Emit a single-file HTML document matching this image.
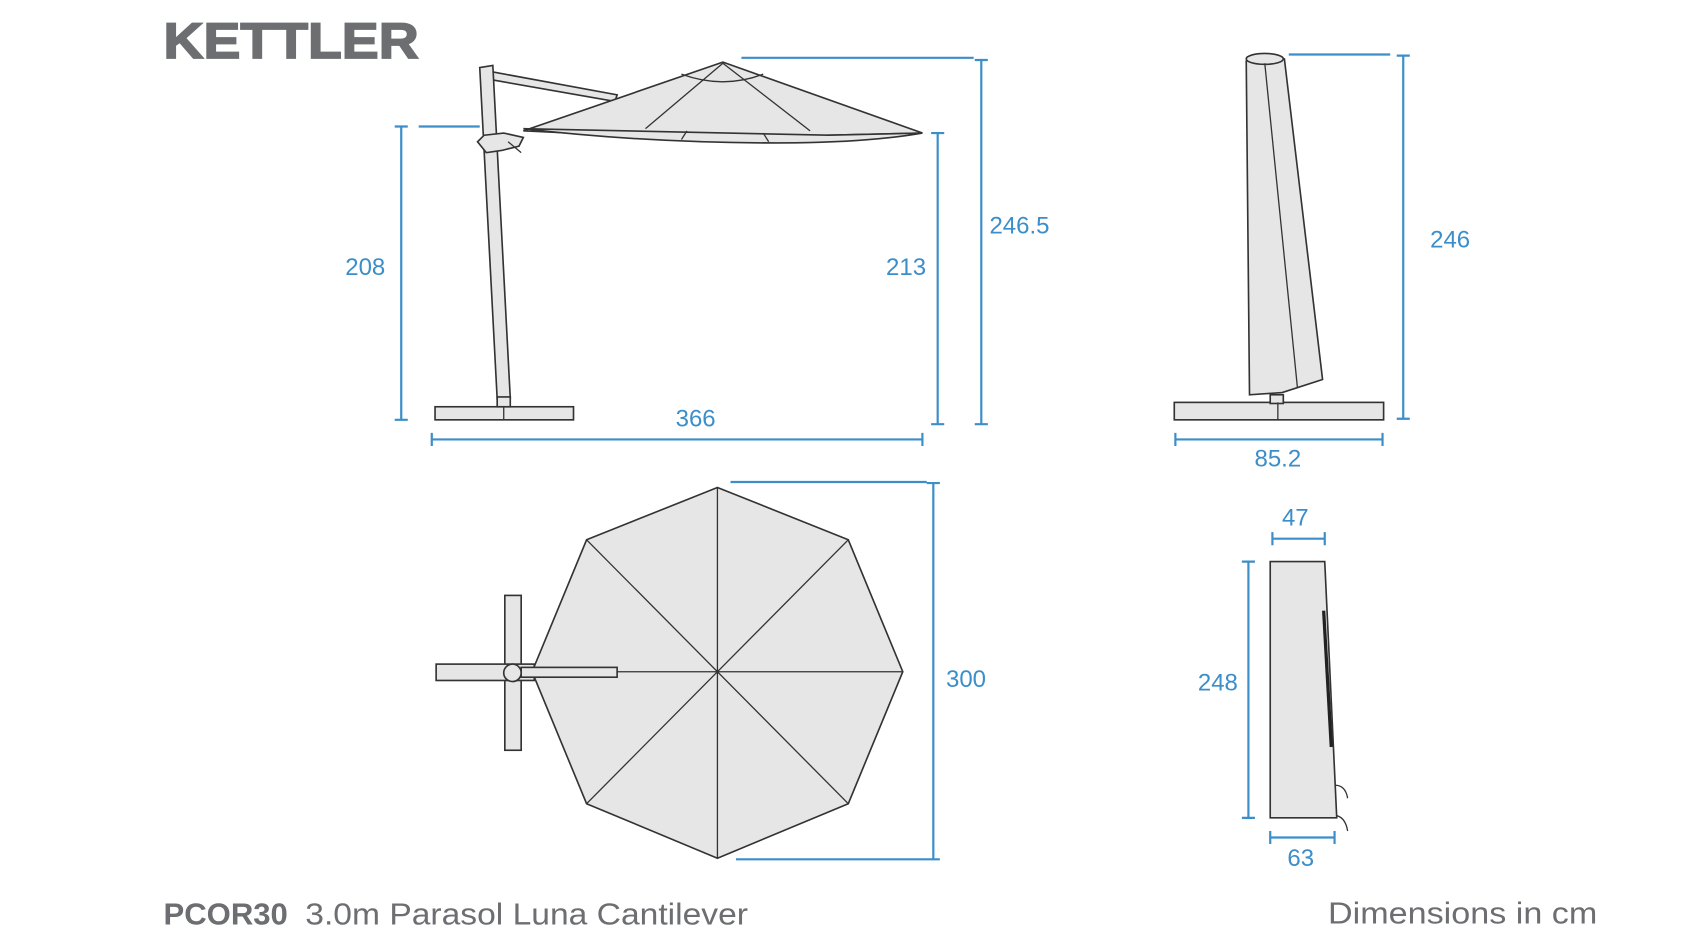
<!DOCTYPE html>
<html><head><meta charset="utf-8"><style>
html,body{margin:0;padding:0;background:#fff;}
svg{display:block;}
text{font-family:"Liberation Sans",sans-serif;}
.d{stroke:#3b8ec9;stroke-width:2;fill:none;}
.t{fill:#3b8ec9;font-size:22px;text-anchor:middle;}
.g{fill:#e6e6e6;stroke:#333;stroke-width:1.5;}
.l{stroke:#333;stroke-width:1.2;fill:none;}
</style></head><body>
<svg width="1690" height="952" viewBox="0 0 1550 873" preserveAspectRatio="none" xmlns="http://www.w3.org/2000/svg">
<text x="150" y="53" font-size="46" font-weight="bold" fill="#6d6e71" stroke="#6d6e71" stroke-width="1.5" textLength="234" lengthAdjust="spacingAndGlyphs">KETTLER</text>

<!-- side view umbrella -->
<polygon class="g" points="452,66 566,87 564,93 450,73"/>
<polygon class="g" points="480,120 663,57 846,122 760,124 650,128"/>
<path class="g" d="M480,118 Q600,132 730,131 Q800,130 846,122 L760,124 Q600,120 480,118Z"/>
<line class="l" x1="663" y1="58" x2="592" y2="118"/>
<line class="l" x1="663" y1="58" x2="743" y2="120"/>
<path class="l" d="M625,68 Q663,82 700,68"/>
<line class="l" x1="625" y1="128" x2="630" y2="120"/>
<line class="l" x1="705" y1="130" x2="700" y2="122"/>
<polygon class="g" points="440,62 452,60 468,365 456,366"/>
<path class="g" d="M438,130 L444,124 L462,122 L480,126 L476,134 L460,138 L446,140Z"/>
<path class="l" d="M466,130 L478,140"/>
<rect x="399" y="373" width="127" height="12" class="g"/>
<rect x="456" y="364" width="12" height="9" class="g"/>
<line class="l" x1="462" y1="373" x2="462" y2="385"/>
<!-- dims side -->
<path class="d" d="M368,116V385M362,116H374M362,385H374M384,116H440"/>
<text class="t" x="335" y="252">208</text>
<path class="d" d="M860,122V389M854,122H866M854,389H866"/>
<text class="t" x="831" y="252">213</text>
<path class="d" d="M900,55V389M894,55H906M894,389H906M680,53H893"/>
<text class="t" x="935" y="214">246.5</text>
<path class="d" d="M396,403H846M396,397V409M846,397V409"/>
<text class="t" x="638" y="391">366</text>

<!-- covered parasol -->
<polygon class="g" points="1143,56 1160,50 1178,54 1213,348 1176,360 1146,362"/>
<ellipse cx="1160" cy="54" rx="17" ry="5" class="g"/>
<line class="l" x1="1160" y1="58" x2="1190" y2="356"/>
<rect x="1077" y="369" width="192" height="16" class="g"/>
<rect x="1165" y="362" width="12" height="8" class="g"/>
<line class="l" x1="1172" y1="369" x2="1172" y2="385"/>
<path class="d" d="M1287,51V384M1281,51H1293M1281,384H1293M1182,50H1275"/>
<text class="t" x="1330" y="227">246</text>
<path class="d" d="M1078,403H1268M1078,397V409M1268,397V409"/>
<text class="t" x="1172" y="428">85.2</text>

<!-- top view -->
<rect x="463" y="546" width="15" height="142" class="g"/>
<rect x="400" y="609" width="90" height="15" class="g"/>
<polygon class="g" points="658,447 778,495 828,616 778,737 658,787 538,737 488,616 538,495"/>
<path class="l" d="M658,447L658,787M778,495L538,737M828,616L488,616M778,737L538,495"/>
<rect x="478" y="612" width="88" height="9" class="g"/>
<circle cx="470" cy="617" r="8" class="g"/>
<path class="d" d="M856,443V788M850,443H862M850,788H862M670,442H850M675,788H850"/>
<text class="t" x="886" y="630">300</text>

<!-- bag -->
<polygon class="g" points="1165,515 1215,515 1226,750 1165,750"/>
<line x1="1214" y1="560" x2="1221" y2="685" stroke="#222" stroke-width="3"/>
<path class="l" d="M1224,720 q10,0 12,12 M1226,748 q8,2 10,14"/>
<path class="d" d="M1167,494H1215M1167,488V500M1215,488V500"/>
<text class="t" x="1188" y="482">47</text>
<path class="d" d="M1145,515V750M1139,515H1151M1139,750H1151"/>
<text class="t" x="1117" y="633">248</text>
<path class="d" d="M1165,768H1224M1165,762V774M1224,762V774"/>
<text class="t" x="1193" y="794">63</text>

<text x="150" y="848" font-size="28" fill="#6d6e71" font-weight="bold" textLength="114" lengthAdjust="spacingAndGlyphs">PCOR30</text>
<text x="280" y="848" font-size="28" fill="#6d6e71" textLength="406" lengthAdjust="spacingAndGlyphs">3.0m Parasol Luna Cantilever</text>
<text x="1218" y="847" font-size="28" fill="#6d6e71" textLength="247" lengthAdjust="spacingAndGlyphs">Dimensions in cm</text>
</svg>
</body></html>
